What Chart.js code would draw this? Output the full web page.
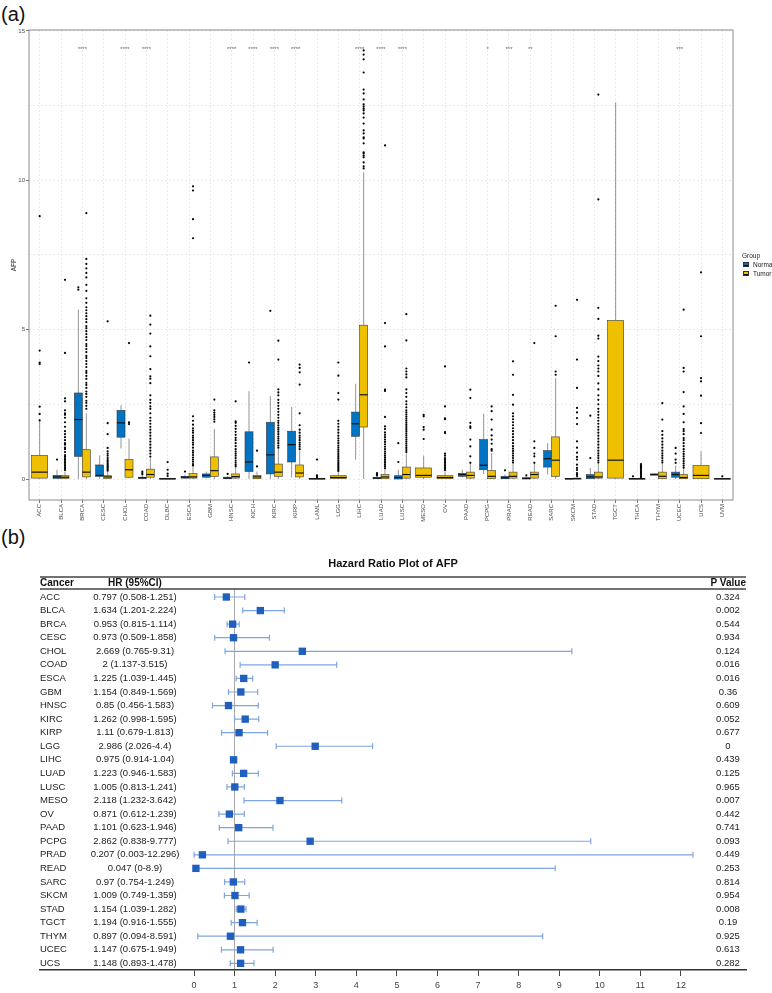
<!DOCTYPE html>
<html>
<head>
<meta charset="utf-8">
<script src="https://cdn.jsdelivr.net/npm/chart.js@4.4.0/dist/chart.umd.min.js"></script>
<style>
  body { margin: 0; background: #fff; font-family: "Liberation Sans", Arial, sans-serif; }
  #page { position: relative; width: 772px; height: 993px; overflow: hidden; }
  .tag { position: absolute; left: 1px; font-size: 20px; line-height: 20px; color: #111; }
  #boxWrap { position: absolute; left: 0; top: 0; width: 772px; height: 530px; }
  #forestWrap { position: absolute; left: 0; top: 540px; width: 772px; height: 453px; }
  .leg { position: absolute; font-size: 6.5px; line-height: 7px; color: #222; }
  .sw { position: absolute; width: 6px; height: 5px; border: 0.5px solid #333; box-sizing: border-box; }
  .sw::after { content: ""; position: absolute; left: 0; right: 0; top: 1.5px; height: 1px; background: #000; }
</style>
</head>
<body>
<div id="page">
  <div class="tag" style="top:4px">(a)</div>
  <div class="tag" style="top:527px">(b)</div>
  <div id="boxWrap"><canvas id="boxChart"></canvas></div>
  <div id="forestWrap"><canvas id="forestChart"></canvas></div>
  <div class="leg" style="left:742px;top:252px">Group</div>
  <div class="sw" style="left:743px;top:262px;background:#0073C2"></div>
  <div class="leg" style="left:753px;top:261px">Normal</div>
  <div class="sw" style="left:743px;top:271px;background:#EFC000"></div>
  <div class="leg" style="left:753px;top:270px">Tumor</div>
</div>
<script>
// ---------- panel (a): AFP expression, Normal vs Tumor ----------
const cancers = ['ACC','BLCA','BRCA','CESC','CHOL','COAD','DLBC','ESCA','GBM','HNSC','KICH','KIRC','KIRP',
  'LAML','LGG','LIHC','LUAD','LUSC','MESO','OV','PAAD','PCPG','PRAD','READ','SARC','SKCM','STAD','TGCT',
  'THCA','THYM','UCEC','UCS','UVM'];

// significance marks over each cancer
const sigMarks = ['','','****','','****','****','','','','****','****','****','****','','','****','****','****',
  '','','','*','***','**','','','','','','','***','',''];

// [lower whisker, Q1, median, Q3, upper whisker]
const normalBox = [
  null, [0,0.02,0.07,0.12,0.31], [0,0.76,1.99,2.88,5.67], [0,0.09,0.12,0.47,0.79], [1.02,1.4,1.88,2.3,2.47],
  [0,0.02,0.04,0.06,0.1], null, [0,0.03,0.06,0.09,0.15], [0.02,0.06,0.12,0.17,0.25], [0,0.01,0.03,0.06,0.1],
  [0,0.25,0.57,1.58,2.94], [0,0.17,0.81,1.9,2.77], [0.05,0.57,1.15,1.6,2.41], null, null,
  [0.65,1.43,1.85,2.24,3.19], [0,0.01,0.03,0.05,0.09], [0,0,0.05,0.11,0.31], null, null,
  [0.05,0.09,0.15,0.19,0.31], [0.17,0.31,0.46,1.32,2.19], [0,0.01,0.04,0.09,0.15], [0,0,0.02,0.04,0.08],
  [0.15,0.4,0.68,0.95,1.2], [0,0,0.01,0.02,0.03], [0,0.01,0.07,0.15,0.37], null,
  [0,0,0.01,0.02,0.03], [0.12,0.13,0.15,0.17,0.18], [0,0.06,0.15,0.23,0.45], null, null
];
const tumorBox = [
  [0,0.03,0.23,0.79,1.93], [0,0.02,0.06,0.11,0.25], [0,0.07,0.23,0.98,2.2], [0,0.02,0.07,0.11,0.24],
  [0.02,0.06,0.31,0.65,1.35], [0,0.06,0.15,0.33,0.7], [0,0,0.01,0.02,0.04], [0,0.03,0.07,0.18,0.4],
  [0,0.09,0.28,0.74,1.68], [0,0.03,0.08,0.17,0.38], [0,0.01,0.07,0.12,0.25], [0,0.09,0.23,0.5,1.0],
  [0,0.07,0.2,0.47,0.95], [0,0,0.01,0.02,0.04], [0,0.02,0.05,0.11,0.24], [0,1.74,2.82,5.15,10.27],
  [0,0.01,0.07,0.15,0.33], [0,0.03,0.15,0.4,0.85], [0,0.06,0.12,0.37,0.78], [0,0.01,0.05,0.11,0.25],
  [0,0.03,0.12,0.23,0.5], [0,0.01,0.09,0.29,0.87], [0,0.03,0.09,0.23,0.5], [0,0.03,0.15,0.23,0.5],
  [0,0.09,0.63,1.41,3.38], [0,0,0.01,0.03,0.07], [0,0.03,0.07,0.23,0.5], [0,0.03,0.63,5.31,12.6],
  [0,0,0.01,0.02,0.04], [0,0.01,0.09,0.23,0.5], [0,0.01,0.05,0.15,0.33], [0,0.01,0.12,0.45,0.93],
  [0,0,0.01,0.02,0.03]
];

const normalOut = [
  [], [0.65], [6.34,6.42], [], [], [0.15,0.2,0.25], [], [0.25], [], [0.17],
  [3.9], [5.63], [], [], [], [], [0.12,0.16,0.2], [0.57,1.2], [], [],
  [], [], [0.29], [0.12], [], [], [0.7,2.12], [], [0.09], [],
  [0.54,0.65,0.85,1.04], [], []
];
const tumorOut = [
  // ACC
  [1.96,2.18,2.42,3.85,3.9,4.3,8.8],
  // BLCA
  [0.3,0.35,0.4,0.45,0.5,0.55,0.6,0.65,0.7,0.75,0.8,0.9,1.0,1.05,1.15,1.2,1.3,1.4,1.5,1.6,1.75,1.9,2.05,2.15,2.2,2.3,2.6,2.7,4.22,6.67],
  // BRCA
  [2.35,2.45,2.55,2.62,2.75,2.85,2.93,3.05,3.15,3.22,3.35,3.45,3.55,3.62,3.75,3.85,3.95,4.05,4.12,4.25,4.35,4.45,4.52,4.65,4.75,4.85,4.95,5.05,5.12,5.25,5.35,5.45,5.55,5.65,5.75,5.9,6.05,6.3,6.5,6.75,6.9,7.05,7.2,7.37,8.9],
  // CESC
  [0.28,0.33,0.38,0.42,0.47,0.52,0.58,0.63,0.7,0.78,0.85,0.93,1.04,1.5,1.87,5.28],
  // CHOL
  [1.84,1.9,4.55],
  // COAD
  [0.75,0.85,0.95,1.05,1.15,1.25,1.35,1.45,1.55,1.65,1.75,1.85,1.95,2.05,2.2,2.35,2.43,2.55,2.65,2.8,3.21,3.36,3.44,3.68,4.11,4.44,4.87,5.17,5.47],
  // DLBC
  [0.1,0.18,0.31,0.57],
  // ESCA
  [0.45,0.5,0.58,0.65,0.72,0.8,0.88,0.95,1.05,1.15,1.22,1.3,1.38,1.45,1.55,1.62,1.7,1.82,1.95,2.1,8.06,8.7,9.66,9.8],
  // GBM
  [1.92,2.0,2.08,2.15,2.22,2.3,2.66],
  // HNSC
  [0.42,0.48,0.55,0.62,0.7,0.78,0.85,0.92,1.0,1.1,1.2,1.3,1.38,1.48,1.58,1.68,1.78,1.88,1.93,2.6],
  // KICH
  [0.42,0.95],
  // KIRC
  [1.05,1.12,1.2,1.28,1.35,1.42,1.5,1.58,1.65,1.72,1.8,1.88,1.95,2.05,2.15,2.25,2.35,2.45,2.55,2.65,2.8,2.9,3.0,4.0,4.63],
  // KIRP
  [1.0,1.08,1.15,1.22,1.3,1.38,1.45,1.55,1.65,1.8,2.2,3.16,3.57,3.72,3.83],
  // LAML
  [0.06,0.1,0.12,0.65],
  // LGG
  [0.27,0.32,0.37,0.42,0.47,0.52,0.57,0.62,0.68,0.74,0.8,0.86,0.92,0.98,1.05,1.12,1.2,1.28,1.36,1.45,1.55,1.65,1.75,1.85,1.95,2.66,2.88,3.46,3.9],
  // LIHC
  [10.4,10.47,10.6,10.77,10.83,10.9,10.94,11.24,11.4,11.44,11.57,11.67,11.9,12.1,12.24,12.34,12.4,12.47,12.54,12.71,12.91,13.04,13.61,14.05,14.21,14.35],
  // LUAD
  [0.36,0.42,0.48,0.54,0.6,0.66,0.72,0.78,0.85,0.92,1.0,1.08,1.16,1.24,1.32,1.4,1.48,1.56,1.67,1.76,2.08,2.95,2.99,4.44,5.22,11.17],
  // LUSC
  [0.9,0.97,1.04,1.11,1.18,1.25,1.32,1.39,1.46,1.53,1.6,1.67,1.74,1.81,1.88,1.95,2.02,2.09,2.16,2.23,2.3,2.4,2.5,2.6,2.75,2.88,3.0,3.4,3.5,3.6,3.7,4.64,5.52],
  // MESO
  [1.34,1.65,1.74,2.1,2.15],
  // OV
  [0.3,0.35,0.4,0.45,0.5,0.55,0.6,0.65,0.7,0.78,0.85,1.54,1.57,2.0,2.03,2.43,3.77],
  // PAAD
  [0.54,0.76,1.09,1.32,1.71,1.76,1.88,2.71,2.99],
  // PCPG
  [0.95,1.0,1.18,1.32,1.46,1.65,1.99,2.27,2.43],
  // PRAD
  [0.55,0.62,0.7,0.78,0.86,0.94,1.02,1.1,1.2,1.3,1.4,1.5,1.6,1.7,1.8,1.9,2.0,2.1,2.2,2.49,2.82,3.49,3.94],
  // READ
  [0.54,0.76,0.85,1.04,1.26,4.55],
  // SARC
  [3.49,3.6,4.78,5.8],
  // SKCM
  [0.1,0.15,0.2,0.3,0.37,0.48,0.65,0.74,0.88,1.05,1.26,1.84,2.04,2.23,2.38,3.05,4.0,6.0],
  // STAD
  [0.55,0.62,0.7,0.78,0.86,0.95,1.05,1.15,1.25,1.35,1.45,1.55,1.65,1.75,1.85,1.95,2.05,2.15,2.25,2.35,2.5,2.65,2.8,3.0,3.2,3.45,3.6,3.7,3.8,3.95,4.1,4.7,4.8,5.36,5.73,9.36,12.87],
  // TGCT
  [],
  // THCA
  [0.06,0.1,0.14,0.18,0.22,0.26,0.3,0.34,0.38,0.42,0.46,0.5],
  // THYM
  [0.55,0.62,0.7,0.78,0.86,0.95,1.05,1.15,1.25,1.36,1.48,1.6,1.99,2.54],
  // UCEC
  [0.38,0.45,0.52,0.6,0.68,0.76,0.84,0.92,1.0,1.1,1.2,1.3,1.37,1.5,1.6,1.67,1.9,2.18,2.43,2.91,3.6,3.72,5.67],
  // UCS
  [1.54,1.87,2.79,3.27,3.38,4.78,6.92],
  // UVM
  [0.09]
];

const yTicks = [0, 2.5, 5, 7.5, 10, 12.5, 15];
const groupColors = { Normal: '#0073C2', Tumor: '#EFC000' };

// dodge position of a group inside its cancer slot
function slot(i, group) {
  const both = normalBox[i] && tumorBox[i];
  if (!both) return { cx: i, half: 0.375 };
  return group === 'Normal' ? { cx: i - 0.1875, half: 0.1875 } : { cx: i + 0.1875, half: 0.1875 };
}

function outlierPoints(list, group) {
  const pts = [];
  list.forEach((vals, i) => {
    vals.forEach(v => pts.push({ x: slot(i, group).cx, y: v }));
  });
  return pts;
}

// boxes, whiskers and medians drawn through the chart scales
const boxPlugin = {
  id: 'boxes',
  beforeDatasetsDraw(chart) {
    const { ctx, scales: { x, y } } = chart;
    ctx.save();
    [['Normal', normalBox], ['Tumor', tumorBox]].forEach(([group, boxes]) => {
      boxes.forEach((b, i) => {
        if (!b) return;
        const s = slot(i, group);
        const xc = x.getPixelForValue(s.cx);
        const xl = x.getPixelForValue(s.cx - s.half);
        const xr = x.getPixelForValue(s.cx + s.half);
        const [lo, q1, med, q3, hi] = b.map(v => y.getPixelForValue(v));
        ctx.strokeStyle = '#666';
        ctx.lineWidth = 0.7;
        ctx.beginPath();
        ctx.moveTo(xc, lo); ctx.lineTo(xc, q1);
        ctx.moveTo(xc, q3); ctx.lineTo(xc, hi);
        ctx.stroke();
        ctx.fillStyle = groupColors[group];
        ctx.fillRect(xl, q3, xr - xl, Math.max(q1 - q3, 0.8));
        ctx.strokeStyle = '#3a3a3a';
        ctx.lineWidth = 0.6;
        ctx.strokeRect(xl, q3, xr - xl, Math.max(q1 - q3, 0.8));
        ctx.strokeStyle = '#111';
        ctx.lineWidth = 1.2;
        ctx.beginPath();
        ctx.moveTo(xl, med); ctx.lineTo(xr, med);
        ctx.stroke();
      });
    });
    ctx.restore();
  },
  afterDatasetsDraw(chart) {
    const { ctx, chartArea, scales: { x, y } } = chart;
    ctx.save();
    ctx.fillStyle = '#666';
    ctx.font = '6px "Liberation Sans", Arial, sans-serif';
    ctx.textAlign = 'center';
    ctx.textBaseline = 'middle';
    sigMarks.forEach((m, i) => {
      if (m) ctx.fillText(m, x.getPixelForValue(i), y.getPixelForValue(14.4));
    });
    ctx.strokeStyle = '#8c8c8c';
    ctx.lineWidth = 1;
    ctx.strokeRect(chartArea.left, chartArea.top, chartArea.right - chartArea.left, chartArea.bottom - chartArea.top);
    ctx.restore();
  }
};

Chart.defaults.font.family = '"Liberation Sans", Arial, sans-serif';

new Chart(document.getElementById('boxChart'), {
  type: 'scatter',
  data: {
    datasets: [
      { label: 'Normal', data: outlierPoints(normalOut, 'Normal'), backgroundColor: '#000', borderWidth: 0, pointRadius: 1.1 },
      { label: 'Tumor', data: outlierPoints(tumorOut, 'Tumor'), backgroundColor: '#000', borderWidth: 0, pointRadius: 1.1 }
    ]
  },
  options: {
    animation: false,
    responsive: true,
    maintainAspectRatio: false,
    layout: { padding: { left: 0, top: 30, right: 39, bottom: 0 } },
    plugins: { legend: { display: false }, tooltip: { enabled: false } },
    scales: {
      x: {
        type: 'linear', min: -0.5, max: 32.5,
        afterBuildTicks: s => { s.ticks = cancers.map((c, i) => ({ value: i })); },
        afterFit: s => { s.height = 30; },
        ticks: { callback: v => cancers[v], autoSkip: false, minRotation: 90, maxRotation: 90,
                 font: { size: 6 }, color: '#4d4d4d', padding: 1 },
        grid: { color: '#e4e4e4', lineWidth: 0.8, tickLength: 3, tickColor: '#555' },
        border: { display: false, dash: [2, 2] }
      },
      y: {
        min: -0.703, max: 15.033,
        afterBuildTicks: s => { s.ticks = yTicks.map(v => ({ value: v })); },
        afterFit: s => { s.width = 29; },
        ticks: { callback: v => (v % 5 === 0 ? v : ''), font: { size: 6 }, color: '#4d4d4d', padding: 1 },
        grid: { color: '#e4e4e4', lineWidth: 0.8, tickLength: 3,
                tickColor: c => (c.tick && c.tick.value % 5 === 0 ? '#555' : 'rgba(0,0,0,0)') },
        border: { display: false, dash: [2, 2] },
        title: { display: true, text: 'AFP', font: { size: 6.5 }, color: '#222', padding: { top: 10, bottom: 0 } }
      }
    }
  },
  plugins: [boxPlugin]
});

// ---------- panel (b): hazard ratio forest plot ----------
const fpCancers = ['ACC','BLCA','BRCA','CESC','CHOL','COAD','ESCA','GBM','HNSC','KIRC','KIRP','LGG','LIHC',
  'LUAD','LUSC','MESO','OV','PAAD','PCPG','PRAD','READ','SARC','SKCM','STAD','TGCT','THYM','UCEC','UCS'];
const hr = [0.797,1.634,0.953,0.973,2.669,2,1.225,1.154,0.85,1.262,1.11,2.986,0.975,1.223,1.005,2.118,0.871,
  1.101,2.862,0.207,0.047,0.97,1.009,1.154,1.194,0.897,1.147,1.148];
const ciLow = [0.508,1.201,0.815,0.509,0.765,1.137,1.039,0.849,0.456,0.998,0.679,2.026,0.914,0.946,0.813,1.232,
  0.612,0.623,0.838,0.003,0,0.754,0.749,1.039,0.916,0.094,0.675,0.893];
const ciHigh = [1.251,2.224,1.114,1.858,9.31,3.515,1.445,1.569,1.583,1.595,1.813,4.4,1.04,1.583,1.241,3.642,
  1.239,1.946,9.777,12.296,8.9,1.249,1.359,1.282,1.555,8.591,1.949,1.478];
const pValues = [0.324,0.002,0.544,0.934,0.124,0.016,0.016,0.36,0.609,0.052,0.677,0,0.439,0.125,0.965,0.007,
  0.442,0.741,0.093,0.449,0.253,0.814,0.954,0.008,0.19,0.925,0.613,0.282];
const hrTicks = [0,1,2,3,4,5,6,7,8,9,10,11,12];

const forestPlugin = {
  id: 'forest',
  beforeDatasetsDraw(chart) {
    const { ctx, scales: { x, y } } = chart;
    ctx.save();
    ctx.strokeStyle = '#7ea6e0';
    ctx.lineWidth = 1.2;
    fpCancers.forEach((c, i) => {
      const yp = y.getPixelForValue(i);
      const x1 = x.getPixelForValue(ciLow[i]);
      const x2 = x.getPixelForValue(ciHigh[i]);
      ctx.beginPath();
      ctx.moveTo(x1, yp); ctx.lineTo(x2, yp);
      ctx.moveTo(x1, yp - 3); ctx.lineTo(x1, yp + 3);
      ctx.moveTo(x2, yp - 3); ctx.lineTo(x2, yp + 3);
      ctx.stroke();
    });
    ctx.restore();
  },
  afterDraw(chart) {
    const { ctx, chartArea, scales: { y } } = chart;
    const font = '"Liberation Sans", Arial, sans-serif';
    const top = chartArea.top;
    ctx.save();
    ctx.textBaseline = 'middle';
    // title
    ctx.fillStyle = '#111';
    ctx.font = 'bold 11px ' + font;
    ctx.textAlign = 'center';
    ctx.fillText('Hazard Ratio Plot of AFP', (chartArea.left + chartArea.right) / 2, top - 25);
    // header rules
    ctx.strokeStyle = '#444';
    ctx.lineWidth = 1.3;
    ctx.beginPath();
    ctx.moveTo(chartArea.left, top - 12); ctx.lineTo(chartArea.right, top - 12);
    ctx.moveTo(chartArea.left, top); ctx.lineTo(chartArea.right, top);
    ctx.stroke();
    // header text
    ctx.font = 'bold 10px ' + font;
    ctx.textAlign = 'left';
    ctx.fillText('Cancer', 40, top - 6);
    ctx.textAlign = 'center';
    ctx.fillText('HR (95%CI)', 135, top - 6);
    ctx.textAlign = 'right';
    ctx.fillText('P Value', chartArea.right, top - 6);
    // rows
    ctx.font = '9.5px ' + font;
    ctx.fillStyle = '#222';
    fpCancers.forEach((c, i) => {
      const yp = y.getPixelForValue(i);
      ctx.textAlign = 'left';
      ctx.fillText(c, 40, yp);
      ctx.textAlign = 'center';
      ctx.fillText(`${hr[i]} (${ciLow[i]}-${ciHigh[i]})`, 135, yp);
      ctx.fillText(String(pValues[i]), 728, yp);
    });
    ctx.restore();
  }
};

new Chart(document.getElementById('forestChart'), {
  type: 'scatter',
  data: {
    datasets: [{
      label: 'HR',
      data: hr.map((v, i) => ({ x: v, y: i })),
      pointStyle: 'rect',
      pointRadius: 5.2,
      backgroundColor: '#1f5fbf',
      borderWidth: 0
    }]
  },
  options: {
    animation: false,
    responsive: true,
    maintainAspectRatio: false,
    layout: { padding: { left: 40, right: 26, top: 49, bottom: 0 } },
    plugins: { legend: { display: false }, tooltip: { enabled: false } },
    scales: {
      x: {
        type: 'linear', min: -3.795, max: 13.602,
        afterBuildTicks: s => { s.ticks = hrTicks.map(v => ({ value: v })); },
        afterFit: s => { s.height = 23; },
        ticks: { font: { size: 9 }, color: '#444', padding: 4 },
        grid: { color: c => (c.tick && c.tick.value === 1 ? '#a8a8a8' : 'rgba(0,0,0,0)'),
                lineWidth: 1, tickLength: 6, tickColor: '#444' },
        border: { display: true, color: '#333', width: 1.5 }
      },
      y: { type: 'linear', display: false, reverse: true, min: -0.59, max: 27.49 }
    }
  },
  plugins: [forestPlugin]
});
</script>
</body>
</html>
